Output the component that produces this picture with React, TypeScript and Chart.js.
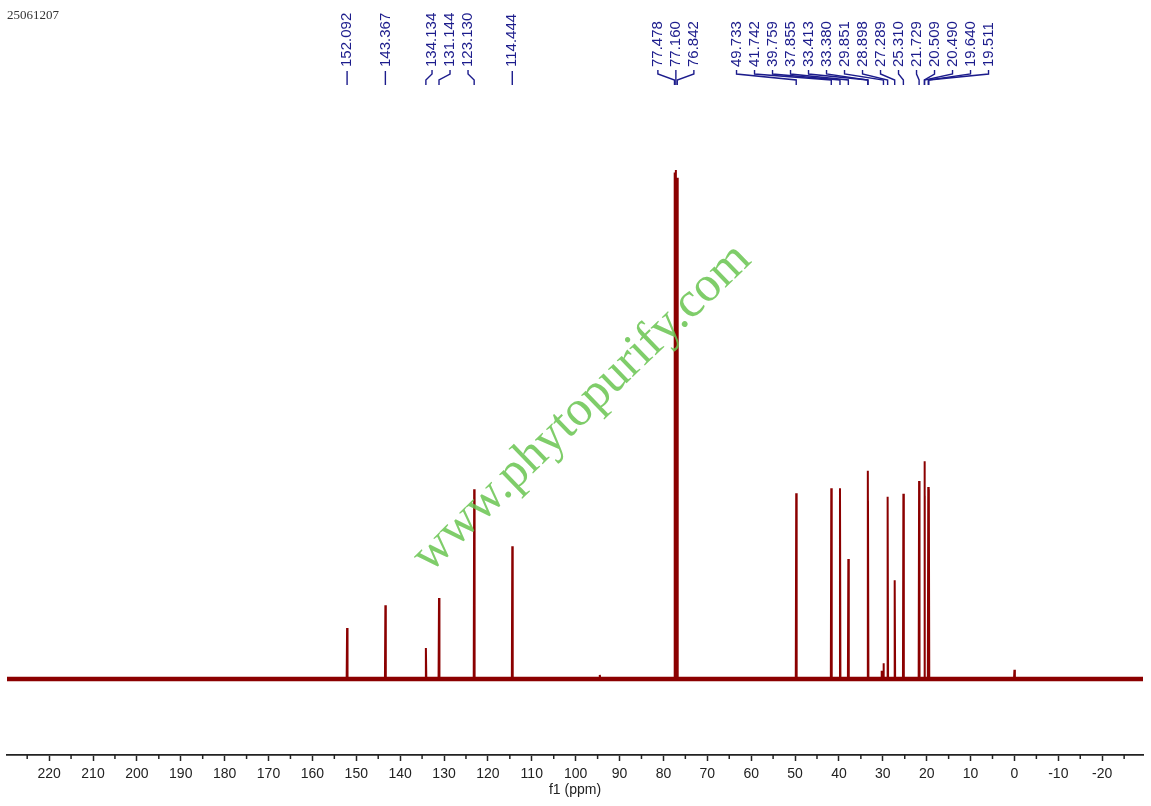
import React, { useEffect, useRef } from "react";
import { Chart, registerables } from "chart.js";

Chart.register(...registerables);

// ---- data ----
const SAMPLE_ID = "25061207";
const PEAK_PPM = [
  152.092, 143.367, 134.134, 131.144, 123.13, 114.444, 77.478, 77.16, 76.842,
  49.733, 41.742, 39.759, 37.855, 33.413, 33.38, 29.851, 28.898, 27.289,
  25.31, 21.729, 20.509, 20.49, 19.64, 19.511,
];
const PEAK_HEIGHT = [
  10.0, 14.5, 6.1, 15.9, 37.3, 26.1, 99.5, 100, 98.5,
  36.5, 37.5, 37.5, 23.6, 40.9, 35.0, 3.1, 35.8, 19.4,
  36.4, 38.9, 42.8, 36.0, 37.7, 37.3,
];
// small unlabelled features on the baseline
const MINOR_PPM = [94.5, 30.3, 0.0];
const MINOR_HEIGHT = [0.8, 1.6, 1.8];
const TICK_VALUES = [220, 210, 200, 190, 180, 170, 160, 150, 140, 130, 120, 110, 100, 90, 80, 70, 60, 50, 40, 30, 20, 10, 0, -10, -20];
const MINOR_TICK_VALUES = [225, 215, 205, 195, 185, 175, 165, 155, 145, 135, 125, 115, 105, 95, 85, 75, 65, 55, 45, 35, 25, 15, 5, -5, -15, -25];
const X_TITLE = "f1 (ppm)";
const WATERMARK = "www.phytopurify.com";
const X_MIN = -29.3;
const X_MAX = 229.6;
const Y_MIN = -14.93;
const Y_MAX = 133.4;

const SPEC_COLOR = "#8b0000";
const LABEL_COLOR = "#1c1c8c";
const AXIS_COLOR = "#222222";

function buildPeakPoints() {
  const all: [number, number][] = PEAK_PPM.map((p, i) => [p, PEAK_HEIGHT[i]] as [number, number]).concat(
    MINOR_PPM.map((p, i) => [p, MINOR_HEIGHT[i]] as [number, number])
  );
  all.sort((a, b) => b[0] - a[0]);
  const pts: { x: number; y: number | null }[] = [];
  for (const [p, h] of all) {
    pts.push({ x: p + 0.1, y: 0 }, { x: p, y: h }, { x: p - 0.1, y: 0 }, { x: p - 0.1, y: null });
  }
  return pts;
}

const annotationPlugin = {
  id: "nmrAnnotations",
  afterDatasetsDraw(chart: any) {
    const ctx: CanvasRenderingContext2D = chart.ctx;
    const xs = chart.scales.x;
    const area = chart.chartArea;

    // minor ticks
    ctx.save();
    ctx.strokeStyle = AXIS_COLOR;
    ctx.lineWidth = 1.5;
    for (const v of MINOR_TICK_VALUES) {
      const px = xs.getPixelForValue(v);
      if (px < area.left || px > area.right) continue;
      ctx.beginPath();
      ctx.moveTo(px, area.bottom);
      ctx.lineTo(px, area.bottom + 4);
      ctx.stroke();
    }
    ctx.restore();

    // watermark
    ctx.save();
    ctx.translate(582, 408);
    ctx.rotate((-44 * Math.PI) / 180);
    ctx.font = '50px "Liberation Serif", "Times New Roman", serif';
    ctx.fillStyle = "rgba(104, 196, 80, 0.85)";
    ctx.textAlign = "center";
    ctx.textBaseline = "middle";
    ctx.fillText(WATERMARK, 0, 0);
    ctx.restore();

    // sample id
    ctx.save();
    ctx.font = '13px "Liberation Serif", "Times New Roman", serif';
    ctx.fillStyle = "#333";
    ctx.textBaseline = "alphabetic";
    ctx.textAlign = "left";
    ctx.fillText(SAMPLE_ID, 7, 19);
    ctx.restore();

    // peak labels with cluster layout
    const S = 18;
    const items = PEAK_PPM.map((p) => ({ px: xs.getPixelForValue(p), text: p.toFixed(3) }));
    items.sort((a, b) => a.px - b.px);
    type Cl = { members: typeof items; start: number; end: number };
    const layout = (c: Cl) => {
      const lo = c.members[0].px;
      const hi = c.members[c.members.length - 1].px;
      const center = (lo + hi) / 2;
      const n = c.members.length;
      c.start = center - ((n - 1) * S) / 2;
      c.end = center + ((n - 1) * S) / 2;
    };
    let clusters: Cl[] = items.map((it) => ({ members: [it], start: 0, end: 0 }));
    clusters.forEach(layout);
    let changed = true;
    while (changed) {
      changed = false;
      for (let i = 0; i < clusters.length - 1; i++) {
        if (clusters[i + 1].start - clusters[i].end < 2 * S) {
          const merged: Cl = { members: clusters[i].members.concat(clusters[i + 1].members), start: 0, end: 0 };
          layout(merged);
          clusters.splice(i, 2, merged);
          changed = true;
          break;
        }
      }
    }

    ctx.save();
    ctx.fillStyle = LABEL_COLOR;
    ctx.strokeStyle = LABEL_COLOR;
    ctx.lineWidth = 1.4;
    ctx.font = '15px "Liberation Sans", Arial, sans-serif';
    for (const c of clusters) {
      c.members.forEach((m, j) => {
        const lx = c.members.length === 1 ? m.px : c.start + j * S;
        ctx.save();
        ctx.translate(lx, 67);
        ctx.rotate(-Math.PI / 2);
        ctx.textAlign = "left";
        ctx.textBaseline = "middle";
        ctx.fillText(m.text, 0, 0);
        ctx.restore();
        ctx.beginPath();
        if (c.members.length === 1) {
          ctx.moveTo(m.px, 71);
          ctx.lineTo(m.px, 85);
        } else {
          ctx.moveTo(lx, 70);
          ctx.lineTo(lx, 74);
          ctx.lineTo(m.px, 80);
          ctx.lineTo(m.px, 85);
        }
        ctx.stroke();
      });
    }
    ctx.restore();
  },
};

export default function App() {
  const canvasRef = useRef<HTMLCanvasElement | null>(null);

  useEffect(() => {
    if (!canvasRef.current) return;
    const chart = new Chart(canvasRef.current, {
      type: "line",
      data: {
        datasets: [
          {
            data: buildPeakPoints() as any,
            borderColor: SPEC_COLOR,
            borderWidth: 2,
            pointRadius: 0,
            tension: 0,
            spanGaps: false,
          },
          {
            data: [
              { x: X_MAX, y: 0 },
              { x: X_MIN, y: 0 },
            ],
            borderColor: SPEC_COLOR,
            borderWidth: 4.5,
            pointRadius: 0,
            tension: 0,
          },
        ],
      },
      options: {
        responsive: false,
        animation: false,
        parsing: false,
        events: [],
        layout: { padding: { left: 7, right: 8, top: 0, bottom: 0 } },
        plugins: { legend: { display: false }, tooltip: { enabled: false } },
        scales: {
          x: {
            type: "linear",
            reverse: true,
            min: X_MIN,
            max: X_MAX,
            afterBuildTicks: (s: any) => {
              s.ticks = TICK_VALUES.map((v) => ({ value: v }));
            },
            afterFit: (s: any) => {
              s.height = 51;
            },
            ticks: {
              autoSkip: false,
              maxRotation: 0,
              color: AXIS_COLOR,
              padding: 5,
              font: { family: '"Liberation Sans", Arial, sans-serif', size: 14 },
              callback: (v: any) => String(v),
            },
            grid: {
              display: true,
              drawOnChartArea: false,
              drawTicks: true,
              tickLength: 6,
              tickWidth: 1.5,
              tickColor: AXIS_COLOR,
            },
            border: { display: true, color: AXIS_COLOR, width: 1.8 },
            title: {
              display: true,
              text: X_TITLE,
              color: AXIS_COLOR,
              font: { family: '"Liberation Sans", Arial, sans-serif', size: 14 },
              padding: { top: 0, bottom: 7 },
            },
          },
          y: { display: false, min: Y_MIN, max: Y_MAX },
        },
      },
      plugins: [annotationPlugin],
    } as any);
    return () => chart.destroy();
  }, []);

  return (
    <div style={{ position: "fixed", left: 0, top: 0, width: 1151, height: 806, background: "#fff" }}>
      <canvas ref={canvasRef} width={1151} height={806} style={{ display: "block" }} />
    </div>
  );
}
